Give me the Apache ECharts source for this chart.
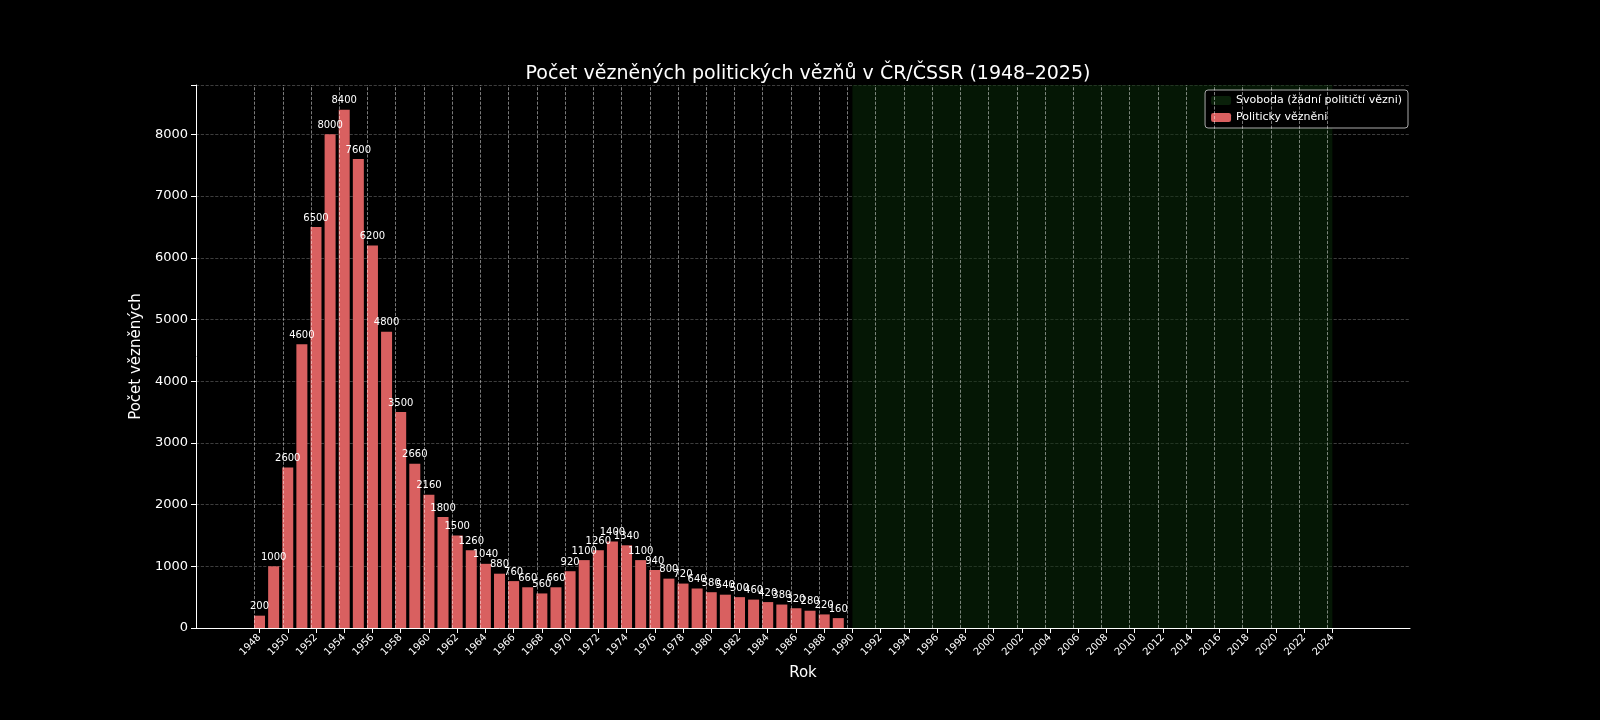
<!DOCTYPE html><html><head><meta charset="utf-8"><script src="https://cdn.jsdelivr.net/npm/echarts@6/dist/echarts.min.js"></script></head><body style="margin:0;background:#000"><div id="c" style="width:1600px;height:720px"></div><script>
const years=[];for(let y=1944;y<=2029;y++)years.push(String(y));
const prisonerYears=[];for(let y=1948;y<=1989;y++)prisonerYears.push(String(y));
const prisoners=[200,1000,2600,4600,6500,8000,8400,7600,6200,4800,3500,2660,2160,1800,1500,1260,1040,880,760,660,560,660,920,1100,1260,1400,1340,1100,940,800,720,640,580,540,500,460,420,380,320,280,220,160];
const tickYears=[];for(let y=1948;y<=2024;y+=2)tickYears.push(String(y));
const freedomStart='1990',freedomEnd='2025';
const data=years.map(y=>{const i=prisonerYears.indexOf(y);return i>=0?prisoners[i]:null;});
const isTick=(i,v)=>tickYears.indexOf(String(v))>=0;
const ch=echarts.init(document.getElementById('c'));
ch.setOption({backgroundColor:'#000',animation:false,
title:{text:'Počet vězněných politických vězňů v ČR/ČSSR (1948–2025)',left:803,textAlign:'center',top:60,textStyle:{color:'#fff',fontSize:19,fontWeight:'normal',fontFamily:'DejaVu Sans'}},
legend:{right:192,top:90,orient:'vertical',backgroundColor:'#000',borderColor:'#aaa',borderWidth:1,borderRadius:3,padding:[5,6],itemWidth:20,itemHeight:9,itemGap:6,textStyle:{color:'#fff',fontSize:11,fontFamily:'DejaVu Sans'},data:['Svoboda (žádní političtí vězni)','Politicky vězněni']},
grid:{left:196,right:190,top:85,bottom:92},
xAxis:{type:'category',data:years,name:'Rok',nameLocation:'middle',nameGap:38,nameTextStyle:{color:'#fff',fontSize:15,fontFamily:'DejaVu Sans'},
axisLine:{lineStyle:{color:'#fff'}},axisTick:{show:true,alignWithLabel:true,interval:isTick,lineStyle:{color:'#fff'}},
axisLabel:{interval:isTick,rotate:45,color:'#fff',fontSize:10,fontFamily:'DejaVu Sans'},
splitLine:{show:false}},
yAxis:{type:'value',min:0,max:8800,interval:1000,name:'Počet vězněných',nameLocation:'middle',nameGap:50,nameTextStyle:{color:'#fff',fontSize:15,fontFamily:'DejaVu Sans'},
axisLine:{show:true,lineStyle:{color:'#fff'}},axisTick:{show:true},axisLabel:{color:'#fff',fontSize:13,fontFamily:'DejaVu Sans',formatter:v=>v%1000===0?v:''},
splitLine:{lineStyle:{color:'rgba(255,255,255,0.3)',type:'dashed',width:0.8}}},
series:[{name:'Svoboda (žádní političtí vězni)',type:'bar',data:[],itemStyle:{color:'#0a200a'},
markArea:{silent:true,itemStyle:{color:'rgba(10,45,10,0.5)'},data:[[{xAxis:freedomStart},{xAxis:freedomEnd}]]},
markLine:{silent:true,symbol:'none',label:{show:false},lineStyle:{color:'rgba(255,255,255,0.6)',type:'dashed',width:0.8},data:tickYears.map(y=>({xAxis:y}))}},
{name:'Politicky vězněni',type:'bar',barGap:'-100%',barWidth:11,data:data,itemStyle:{color:'#d96060'},
label:{show:true,position:'top',distance:4,color:'#fff',fontSize:10,fontFamily:'DejaVu Sans'}}]});
</script></body></html>
